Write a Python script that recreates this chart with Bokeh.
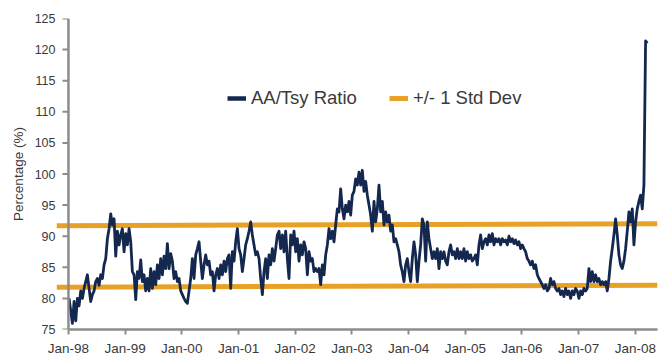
import math
import pandas as pd
from bokeh.plotting import figure
from bokeh.models import (Range1d, FixedTicker, DatetimeTickFormatter, Legend,
                          LegendItem, Span)
from bokeh.embed import file_html
from bokeh.resources import INLINE

# ---- data (AA / Treasury ratio, %) ----
ratio_1998_99 = [80, 78, 76, 79.5, 76.4, 80, 78.8, 81.2, 80, 81.6, 82.7, 83.8, 81.6,
                 79.5, 80.6, 81.2, 82.7, 83.2, 82.1, 83.8, 83.2, 85.4, 86.4, 89.6,
                 91.2, 93.6, 91.8, 92.8, 86.8, 90.8, 88.6, 90.2, 91.2, 87.5, 90.4,
                 88.6, 91.2, 89.1, 84.3, 83.8, 79.8, 84.3, 83.2, 86.2, 82.7, 83.8,
                 81.2, 83.2, 81.2, 84.8, 81.6, 84.3, 82.2, 85.4, 83.2, 86.4, 83.8,
                 86.8, 84.8, 88.8, 84.8, 87.2, 86, 83.2, 84.3, 82.7, 83.2, 81.2,
                 80.6, 80, 79.5]
ratio_2000_01 = [79.2, 81.2, 83.2, 86.4, 83.2, 87, 88, 89.1, 86, 83.2, 85.4, 87,
                 85.4, 86, 83.8, 84.3, 81.2, 83.8, 84.8, 83.2, 85.4, 83.8, 86, 84.3,
                 86.4, 87, 81.6, 87.5, 86, 89.1, 91.2, 88, 87, 84.3, 86.4, 88.6,
                 89.6, 90.8, 92.3, 90.2, 88.6, 87, 87.5, 86.4, 83.2, 80.6, 84.3,
                 86.4, 83.2, 87, 85.4, 88, 86, 88, 90.2, 90.8, 88, 90.2, 87.5, 90.8,
                 86.4, 83.2, 90.2, 88.6, 90.8, 87.5, 89.6, 86, 88.6, 87, 89.1, 88]
ratio_2002_03 = [83.8, 87.5, 86, 86.4, 84.3, 84.8, 84.3, 84.8, 82.2, 85.4, 83.8, 87,
                 88.6, 91.2, 89.6, 90.8, 89.1, 91.8, 94.4, 93.9, 97.6, 94.4, 92.8,
                 95, 93.9, 95.6, 93.4, 96.6, 97.2, 99.2, 98.2, 100.3, 98.2, 100.6,
                 97.2, 98.8, 96.6, 95, 93.4, 90.8, 95.6, 92.3, 94.4, 98.2, 93.9,
                 95.6, 91.8, 93.9, 92.3, 93.4, 90.8, 91.8, 89.1, 89.6, 88.6, 87.5,
                 85.4, 84.3, 82.7, 85.4, 86.4, 84.3, 82.7, 86.4, 89.1, 87, 82.7, 86,
                 88.6, 92.8, 91.8]
ratio_2004_06 = [86, 92.3, 89.6, 88, 86.4, 87.5, 86.4, 88, 84.8, 87.5, 86.4, 87.5,
                 86, 85.4, 87.5, 88.6, 87, 87.5, 86.4, 88, 86.4, 87.5, 86.4, 88, 86,
                 87.5, 86.4, 87, 86, 86.4, 87, 85.4, 88.6, 90.2, 88, 89.1, 89.6,
                 88.6, 90.2, 89.1, 90.4, 88.6, 89.6, 89.1, 89.6, 88.6, 89.6, 89.1,
                 89.4, 88.6, 90, 89.1, 89.6, 88.8, 89.4, 88.6, 89.1, 88, 88.6, 88,
                 87.5, 86.4, 86, 85.4, 86, 84.8, 85.4, 83.8, 83.2, 82.7, 82.2, 81.6]
ratio_2006_08 = [82.2, 81.2, 81.6, 83.2, 82.2, 82.7, 81.6, 81.2, 81.6, 80.6, 81.2,
                 80.3, 81.6, 80.6, 81.2, 80, 81.2, 80.6, 81.6, 81.2, 80, 81.2, 80.6,
                 81.6, 81.2, 81.6, 84.8, 82.7, 84.3, 82.7, 83.8, 82.7, 83.2, 82.2,
                 82.7, 82.2, 82.7, 81.2, 83.2, 86, 88, 90.2, 92.8, 90.2, 87, 85.4,
                 84.8, 86, 88, 90.8, 93.9, 92.3, 94.4, 88.6, 92.3, 94.4, 95.6, 96.6,
                 94.4, 98.2, 121.4, 121]
ratio = ratio_1998_99 + ratio_2000_01 + ratio_2002_03 + ratio_2004_06 + ratio_2006_08
first_obs, last_obs = "1998-01-05", "2008-03-18"

band_dates = ["1997-10-16", "2008-05-23"]
upper_band = [91.7, 92.0]
lower_band = [81.8, 82.1]

y_ticks = [75, 80, 85, 90, 95, 100, 105, 110, 115, 120, 125]
tick_years = [1998, 1999, 2000, 2001, 2002, 2003, 2004, 2005, 2006, 2007, 2008]
series_label = "AA/Tsy Ratio"
band_label = "+/- 1 Std Dev"
y_title = "Percentage (%)"

# ---- styling ----
NAVY = "#14284F"
GOLD = "#E8A127"
AXIS = "#8C8C8C"
TEXT = "#3A3A3A"
FONT = "Liberation Sans"


def ms(d):
    return pd.Timestamp(d).value / 1e6


dates = pd.date_range(first_obs, last_obs, periods=len(ratio))
bd = pd.to_datetime(band_dates)
axis_date = pd.Timestamp(f"{tick_years[0]}-01-01")

p = figure(width=665, height=358, x_axis_type="datetime",
           x_range=Range1d(bd[0], bd[1]), y_range=Range1d(75, 125),
           output_backend="svg", toolbar_location=None,
           min_border_left=56, min_border_right=8, min_border_top=18,
           min_border_bottom=27)
p.outline_line_color = None
p.xgrid.visible = False
p.ygrid.visible = False
p.background_fill_color = "white"
p.border_fill_color = "white"

r_up = p.line(bd, upper_band, line_color=GOLD, line_width=5)
p.line(bd, lower_band, line_color=GOLD, line_width=5)

# vertical axis line and its ticks at Jan-98
p.add_layout(Span(location=ms(axis_date), dimension="height",
                  line_color=AXIS, line_width=2.5))
p.ray(x=[axis_date] * len(y_ticks), y=y_ticks, length=6, angle=math.pi,
      length_units="screen", line_color=AXIS, line_width=2)

p.line(dates, ratio, line_color=NAVY, line_width=2.8, line_join="round")
proxy = p.line(x=[dates[0]], y=[float("nan")], line_color=NAVY, line_width=4.5)

yax = p.yaxis[0]
yax.ticker = FixedTicker(ticks=y_ticks)
yax.axis_label = y_title
yax.axis_label_text_font = FONT
yax.axis_label_text_font_size = "13.5px"
yax.axis_label_text_font_style = "normal"
yax.axis_label_text_color = TEXT
yax.axis_label_standoff = 6
yax.major_label_text_font = FONT
yax.major_label_text_font_size = "12.5px"
yax.major_label_text_color = TEXT
yax.axis_line_color = None
yax.major_tick_line_color = None
yax.major_tick_out = 0
yax.major_tick_in = 0
yax.minor_tick_line_color = None
yax.major_label_standoff = 1

xax = p.xaxis[0]
xax.ticker = FixedTicker(ticks=[ms(f"{y}-01-01") for y in tick_years])
xax.formatter = DatetimeTickFormatter(years="%b-%y", months="%b-%y", days="%b-%y")
xax.bounds = (ms(axis_date), ms(band_dates[1]))
xax.major_label_text_font = FONT
xax.major_label_text_font_size = "13.5px"
xax.major_label_text_color = TEXT
xax.axis_line_color = AXIS
xax.axis_line_width = 2.5
xax.major_tick_line_color = AXIS
xax.major_tick_line_width = 2
xax.major_tick_out = 5
xax.major_tick_in = 0
xax.minor_tick_line_color = None
xax.major_label_standoff = 6

legend = Legend(items=[LegendItem(label=series_label, renderers=[proxy]),
                       LegendItem(label=band_label, renderers=[r_up])],
                orientation="horizontal", location=(171, 220),
                border_line_color=None, background_fill_alpha=0,
                padding=0, margin=0, spacing=32, glyph_width=19, glyph_height=20,
                label_standoff=5, label_text_font=FONT, label_text_font_size="18.5px",
                label_text_color=TEXT)
p.add_layout(legend)

open("out.html", "w").write(file_html(p, INLINE))
